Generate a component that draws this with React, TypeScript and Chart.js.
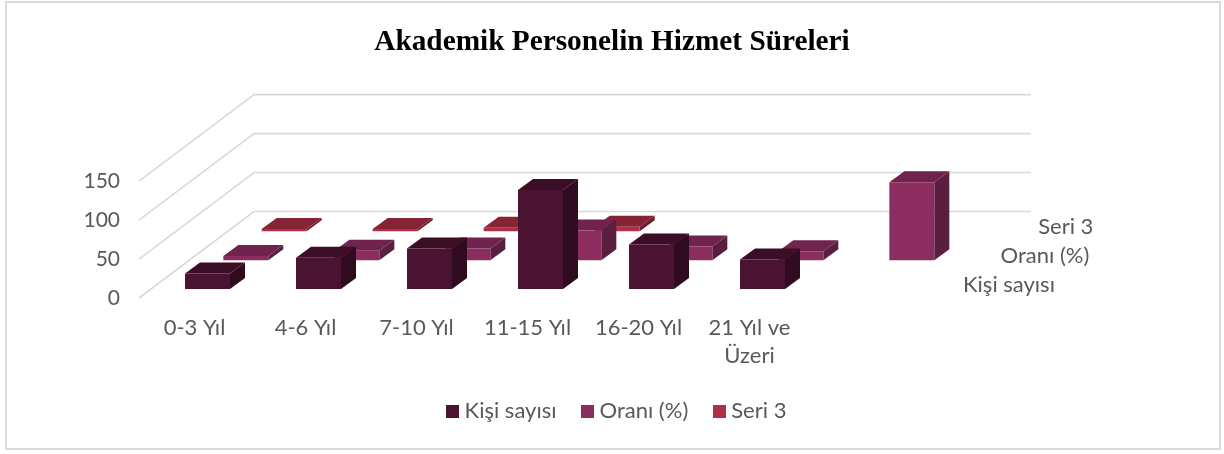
import React, { useEffect, useRef } from "react";
import { Chart, registerables } from "chart.js";

Chart.register(...registerables);

const categories: (string | string[])[] = ["0-3 Yıl", "4-6 Yıl", "7-10 Yıl", "11-15 Yıl", "16-20 Yıl", ["21 Yıl ve", "Üzeri"], ""];
const seriesNames = ["Kişi sayısı", "Oranı (%)", "Seri 3"];
const kisiSayisi = [20, 40, 52, 127, 57, 38, null];
const orani = [5.5, 12, 15, 38, 17.5, 11.5, 100];
const seri3 = [3, 3, 4.5, 6, null, null, null];
const faceColors = ["#4A1331", "#8C2D60", "#B03048"];
const topColors = ["#3C0E26", "#70234D", "#862436"];
const sideColors = ["#2E0B1E", "#5A1F3F", "#6E1E2E"];
const yTicks = { min: 0, max: 150, stepSize: 50 };

const FONT = "Lato";
const TEXT = "#595959";
const GRID = "#D9D9D9";
const FS = 22;
const BOTTOM_PAD = 22;
// oblique projection of the depth axis, pixels per full depth of the floor
const DEPTH_X = 115;
const DEPTH_Y = 86.5;
const ROW_X = DEPTH_X / 3;
const ROW_Y = DEPTH_Y / 3;
const BAR_W = 45;
const BAR_DX = 15;
const BAR_DY = 11;
const ROW_GAP_X = 13;
const ROW_GAP_Y = 9;

function square(color: string) {
  const c = document.createElement("canvas");
  c.width = 13;
  c.height = 13;
  const g = c.getContext("2d")!;
  g.fillStyle = color;
  g.fillRect(0, 0, 13, 13);
  return c;
}

const frame3d = {
  id: "frame3d",
  afterLayout(chart: any) {
    chart.legend.left += 7;
    chart.legend.right += 7;
  },
  beforeDraw(chart: any) {
    const { ctx } = chart;
    ctx.save();
    ctx.strokeStyle = GRID;
    ctx.lineWidth = 2;
    ctx.strokeRect(6, 2, 1214, 447);
    ctx.restore();
  },
  beforeDatasetsDraw(chart: any) {
    const { ctx, scales } = chart;
    const y = scales.y;
    const x = scales.x;
    ctx.save();
    ctx.strokeStyle = GRID;
    ctx.lineWidth = 1.6;
    y.ticks.forEach((t: any) => {
      const py = y.getPixelForValue(t.value);
      ctx.beginPath();
      ctx.moveTo(x.left, py);
      ctx.lineTo(x.left + DEPTH_X, py - DEPTH_Y);
      ctx.lineTo(x.right + DEPTH_X, py - DEPTH_Y);
      ctx.stroke();
    });
    ctx.restore();
  },
  beforeDatasetDraw(chart: any, args: any) {
    const { ctx } = chart;
    const i = args.index;
    const dx = i * ROW_X + ROW_GAP_X;
    const dy = -(i * ROW_Y + ROW_GAP_Y);
    args.meta.data.forEach((el: any, k: number) => {
      if (chart.data.datasets[i].data[k] == null) return;
      const l = el.x - BAR_W / 2 + dx;
      const r = l + BAR_W;
      const t = el.y + dy;
      const b = el.base + dy;
      const poly = (pts: number[][], fill: string) => {
        ctx.fillStyle = fill;
        ctx.beginPath();
        pts.forEach((p, n) => (n ? ctx.lineTo(p[0], p[1]) : ctx.moveTo(p[0], p[1])));
        ctx.closePath();
        ctx.fill();
      };
      poly([[r, t], [r + BAR_DX, t - BAR_DY], [r + BAR_DX, b - BAR_DY], [r, b]], sideColors[i]);
      poly([[l, t], [l + BAR_DX, t - BAR_DY], [r + BAR_DX, t - BAR_DY], [r, t]], topColors[i]);
      poly([[l, t], [r, t], [r, b], [l, b]], faceColors[i]);
    });
    return false;
  },
  afterDatasetsDraw(chart: any) {
    const { ctx, scales } = chart;
    ctx.save();
    ctx.font = `${FS}px ${FONT}`;
    ctx.fillStyle = TEXT;
    ctx.textAlign = "left";
    ctx.textBaseline = "middle";
    chart.data.datasets.forEach((d: any, i: number) => {
      ctx.fillText(d.label, scales.x.right + 47 + i * 37.6, scales.y.getPixelForValue(0) - 13.5 - i * ROW_Y);
    });
    ctx.restore();
  },
};

export default function App() {
  const ref = useRef<HTMLCanvasElement>(null);
  useEffect(() => {
    const series = [kisiSayisi, orani, seri3];
    const chart = new Chart(ref.current!, {
      type: "bar",
      data: {
        labels: categories as any,
        datasets: series.map((data, i) => ({
          label: seriesNames[i],
          data,
          backgroundColor: faceColors[i],
          barThickness: BAR_W,
          grouped: false,
          xAxisID: "x",
          yAxisID: "y",
        })) as any,
      },
      plugins: [frame3d as any],
      options: {
        responsive: false,
        animation: false,
        layout: { padding: { bottom: BOTTOM_PAD } },
        plugins: {
          tooltip: { enabled: false },
          title: {
            display: true,
            text: "Akademik Personelin Hizmet Süreleri",
            color: "#000000",
            font: { family: "Liberation Serif", size: 29.3, weight: "bold", lineHeight: 1.2 },
            padding: { top: 25, bottom: 121 },
          },
          legend: {
            position: "bottom",
            labels: {
              font: { family: FONT, size: FS },
              color: TEXT,
              padding: 30,
              boxWidth: 2,
              boxHeight: 13,
              usePointStyle: true,
              generateLabels: () =>
                seriesNames.map((text, i) => ({
                  text,
                  fontColor: TEXT,
                  datasetIndex: i,
                  hidden: false,
                  lineWidth: 0,
                  pointStyle: square(faceColors[i]),
                })) as any,
            },
          },
        },
        scales: {
          x: {
            type: "category",
            offset: true,
            grid: { display: false, drawTicks: false },
            border: { display: false },
            ticks: {
              autoSkip: false,
              maxRotation: 0,
              minRotation: 0,
              padding: 16,
              color: TEXT,
              font: { family: FONT, size: FS, lineHeight: 1.27 },
            },
            afterFit: (s: any) => {
              s.height = 156 - BOTTOM_PAD - (s.chart.legend?.height ?? 0);
            },
          },
          y: {
            type: "linear",
            min: yTicks.min,
            max: yTicks.max,
            grid: { display: false, drawTicks: false },
            border: { display: false },
            ticks: {
              stepSize: yTicks.stepSize,
              padding: 19,
              color: TEXT,
              font: { family: FONT, size: 21 },
            },
            afterFit: (s: any) => {
              s.width = 139;
            },
          },
          spacer: {
            type: "linear",
            position: "right",
            min: 0,
            max: 1,
            grid: { display: false, drawTicks: false },
            border: { display: false },
            ticks: { display: false },
            afterFit: (s: any) => {
              s.width = 308;
            },
          },
        },
      } as any,
    });
    return () => chart.destroy();
  }, []);
  return (
    <div style={{ position: "absolute", left: 0, top: 0, width: 1224, height: 454 }}>
      <canvas ref={ref} width={1224} height={454} style={{ display: "block" }} />
    </div>
  );
}
